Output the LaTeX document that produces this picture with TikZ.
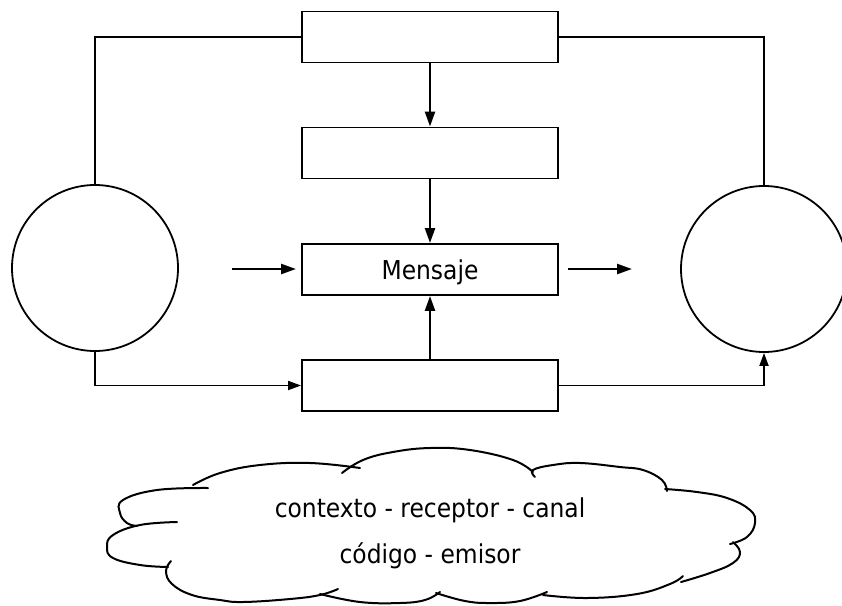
\documentclass[tikz,border=0pt]{standalone}
\usepackage{fontspec}
\setmainfont{DejaVu Sans Condensed}
\usetikzlibrary{arrows.meta}
\begin{document}
\begin{tikzpicture}[x=1pt,y=-1pt,
  box/.style={draw, line width=1.9pt, minimum width=256pt, minimum height=51pt, inner sep=0pt},
  ring/.style={draw, circle, line width=1.8pt, minimum size=166pt, inner sep=0pt},
  link/.style={line width=1.6pt},
  bigarrow/.style={line width=2.4pt, -{Triangle[length=15pt,width=10pt]}},
  smallarrow/.style={line width=1.8pt, -{Triangle[length=13pt,width=9pt]}},
  cloudline/.style={line width=2pt, line cap=round},
  txt/.style={font=\fontsize{26}{30}\selectfont, inner sep=0pt, anchor=base}
]
\useasboundingbox (0,0) rectangle (842,605);

% boxes
\node[box] (b1) at (430,37) {};
\node[box] (b2) at (430,153) {};
\node[box, text height=19pt, text depth=0pt, font=\fontsize{26}{30}\selectfont] (b3) at (430,269.5) {Mensaje};
\node[box] (b4) at (430,385.5) {};

% circles
\node[ring] (c1) at (95,268) {};
\node[ring] (c2) at (764,269) {};

% connectors
\draw[link] (c1.north) |- (b1.west);
\draw[link] (b1.east) -| (c2.north);
\draw[smallarrow] (c1.south) |- (b4.west);
\draw[smallarrow] (b4.east) -| (c2.south);

\draw[bigarrow] (b1.south) -- (b2.north);
\draw[bigarrow] (b2.south) -- (b3.north);
\draw[bigarrow] (b4.north) -- (b3.south);

\coordinate (la1) at (232,269);
\coordinate (la2) at (296,269);
\coordinate (ra1) at (568,269);
\coordinate (ra2) at (632,269);
\draw[bigarrow] (la1) -- (la2);
\draw[bigarrow] (ra1) -- (ra2);

% cloud
\draw[cloudline] plot[smooth, tension=0.7] coordinates {(360,468) (310,463) (260,465) (220,473) (193,485)};
\draw[cloudline] plot[smooth, tension=0.7] coordinates {(208,488) (157,490) (123,500) (120,513) (127,523) (137,526)};
\draw[cloudline] plot[smooth, tension=0.7] coordinates {(177,522) (140,525) (113,535) (107,547) (113,558) (140,565) (168,567)};
\draw[cloudline] plot[smooth, tension=0.7] coordinates {(171,561) (166,571) (172,584) (192,595) (220,600) (243,602) (290,599) (320,595) (338,589)};
\draw[cloudline] plot[smooth, tension=0.7] coordinates {(320,594) (360,602) (400,603) (425,600) (440,592)};
\draw[cloudline] plot[smooth, tension=0.7] coordinates {(436,593) (465,601) (490,603) (520,601) (547,592)};
\draw[cloudline] plot[smooth, tension=0.7] coordinates {(543,595) (587,598) (637,594) (670,584) (683,576)};
\draw[cloudline] plot[smooth, tension=0.7] coordinates {(681,582) (710,573) (733,563) (740,552) (733,542)};
\draw[cloudline] plot[smooth, tension=0.7] coordinates {(730,544) (747,537) (755,523) (750,510) (727,498) (697,492) (665,489)};
\draw[cloudline] plot[smooth, tension=0.7] coordinates {(667,491) (662,480) (643,470) (620,467) (580,463) (553,465) (533,470) (535,477)};
\draw[cloudline] plot[smooth, tension=0.7] coordinates {(533,472) (513,460) (470,450) (430,448) (393,452) (363,460) (342,473)};

\node[txt] (t1) at (430,517) {contexto - receptor - canal};
\node[txt] (t2) at (430,563) {código - emisor};
\end{tikzpicture}
\end{document}
